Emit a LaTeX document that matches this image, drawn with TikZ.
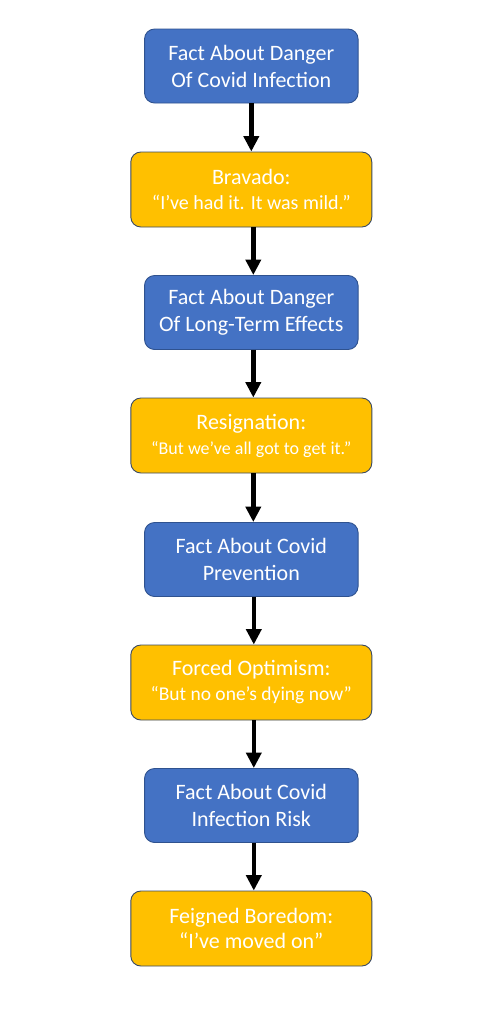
\documentclass[tikz,border=0pt]{standalone}
\usepackage{fontspec}
\setmainfont{Carlito}
\usetikzlibrary{arrows.meta}
\definecolor{boxblue}{HTML}{4472C4}
\definecolor{boxyellow}{HTML}{FFC000}
\definecolor{edgeblue}{HTML}{2F528F}
\definecolor{edgeyellow}{HTML}{3A4A63}
\tikzset{
  factbox/.style={draw=edgeblue, line width=0.9pt, fill=boxblue, rounded corners=10pt,
    minimum width=213.5pt, minimum height=74pt, inner sep=0pt, align=center,
    text=white, font=\fontsize{22}{27}\selectfont},
  replybox/.style={draw=edgeyellow, line width=0.9pt, fill=boxyellow, rounded corners=10pt,
    minimum width=241pt, minimum height=75pt, inner sep=0pt, align=center,
    text=white, font=\fontsize{22}{25}\selectfont},
  flow/.style={line width=4.5pt, -{Triangle[width=15pt,length=15.5pt]}}
}
\begin{document}
\begin{tikzpicture}[x=1pt,y=-1pt]
\useasboundingbox[fill=white] (0,0) rectangle (500,1018);
\node[factbox] (f1) at (251.3,66) {Fact About Danger\\Of Covid Infection};
\node[replybox] (r1) at (251.3,189.5) {Bravado:\\{\fontsize{20}{25}\selectfont “I’ve had it. It was mild.”}};
\node[factbox] (f2) at (251.3,312.5) {Fact About Danger\\Of Long-Term Effects};
\node[replybox] (r2) at (251.3,435.5) {Resignation:\\{\fontsize{18}{25}\selectfont “But we’ve all got to get it.”}};
\node[factbox] (f3) at (251.3,559.5) {Fact About Covid\\Prevention};
\node[replybox] (r3) at (251.3,682.5) {Forced Optimism:\\{\fontsize{19.5}{25}\selectfont “But no one’s dying now”}};
\node[factbox] (f4) at (251.3,805.5) {Fact About Covid\\Infection Risk};
\node[replybox] (r4) at (251.3,928.5) {Feigned Boredom:\\“I’ve moved on”};
\draw[flow] (f1.south) -- (r1.north);
\draw[flow] ([xshift=2pt]r1.south) -- ([xshift=2pt]f2.north);
\draw[flow] ([xshift=2pt]f2.south) -- ([xshift=2pt]r2.north);
\draw[flow] ([xshift=2pt]r2.south) -- ([xshift=2pt]f3.north);
\draw[flow] ([xshift=2.5pt]f3.south) -- ([xshift=2.5pt]r3.north);
\draw[flow] ([xshift=2.5pt]r3.south) -- ([xshift=2.5pt]f4.north);
\draw[flow] ([xshift=2.5pt]f4.south) -- ([xshift=2.5pt]r4.north);
\end{tikzpicture}
\end{document}
